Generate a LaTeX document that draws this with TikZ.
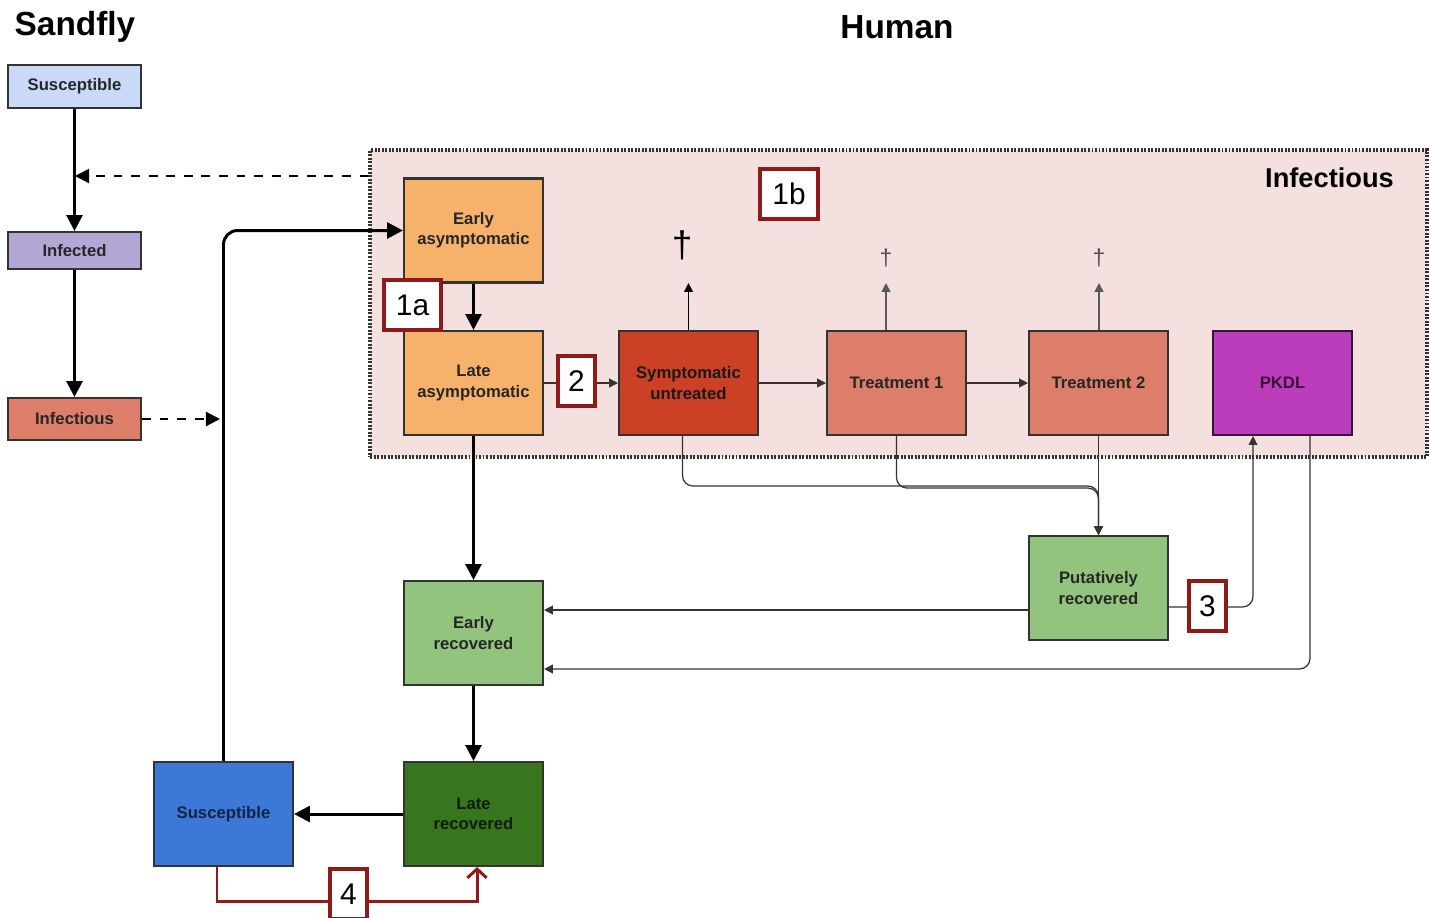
\documentclass[tikz,border=0pt]{standalone}
\usepackage{fontspec}
\setmainfont{Liberation Sans}
\usetikzlibrary{arrows.meta}

\definecolor{flysus}{HTML}{C9DAF8}
\definecolor{flyinf}{HTML}{B4A7D6}
\definecolor{salmon}{HTML}{DD7E6B}
\definecolor{asym}{HTML}{F6B26B}
\definecolor{symp}{HTML}{CC4125}
\definecolor{pkdl}{HTML}{BC3DBC}
\definecolor{recov}{HTML}{93C47D}
\definecolor{laterec}{HTML}{38761D}
\definecolor{humsus}{HTML}{3C78D8}
\definecolor{zonepink}{HTML}{F5E0E0}
\definecolor{tagred}{HTML}{8E1A1A}

\begin{document}
\begin{tikzpicture}[x=0.02cm, y=-0.02cm,
    box/.style = {draw=black!80, line width=1.2pt, minimum width=2.78cm, minimum height=2.08cm,
                  inner sep=0pt, align=center, text=black!85,
                  font=\fontsize{9.5}{11.5}\selectfont\bfseries},
    flybox/.style = {box, minimum width=2.66cm},
    tag/.style = {draw=tagred, line width=2.3pt, fill=white, inner sep=0pt,
                  minimum width=0.74cm, minimum height=1.0cm, font=\fontsize{17}{17}\selectfont},
    flow/.style = {line width=1.7pt, -{Triangle[length=9pt,width=9pt]}},
    thinflow/.style = {draw=black!80, line width=0.7pt, -{Triangle[length=5pt,width=5pt]}},
    death/.style = {draw=black!65, line width=0.8pt, -{Triangle[length=5pt,width=5pt]}},
    link/.style = {line width=1.2pt, dash pattern=on 5pt off 5pt, -{Triangle[length=8pt,width=8pt]}},
    title/.style = {font=\fontsize{19}{19}\selectfont\bfseries}]

    \useasboundingbox (0,0) rectangle (1429,917);

    % titles
    \node[title] (flytitle) at (75,27) {Sandfly};
    \node[title] (humantitle) at (897,27) {Human};

    % infectious zone
    \node[draw=black!80, fill=zonepink, line width=2pt, dash pattern=on 1.1pt off 0.9pt,
          minimum width=21.14cm, minimum height=6.14cm, inner sep=0pt] (infzone) at (898.5,303.5) {};
    \node[anchor=east, font=\fontsize{15.5}{15.5}\selectfont\bfseries] (zonelabel) at (1400,178) {Infectious};

    % sandfly
    \node[flybox, fill=flysus, minimum height=0.86cm] (flysus) at (74.5,86.5) {Susceptible};
    \node[flybox, fill=flyinf, minimum height=0.74cm] (flyinf) at (74.5,250.5) {Infected};
    \node[flybox, fill=salmon, minimum height=0.84cm] (flyinfc) at (74.5,419) {Infectious};

    % human
    \node[box, fill=asym] (easym) at (473.5,230.5) {Early\\asymptomatic};
    \node[box, fill=asym] (lasym) at (473.5,383) {Late\\asymptomatic};
    \node[box, fill=symp, text=black!90] (symp) at (688.5,383) {Symptomatic\\untreated};
    \node[box, fill=salmon] (treat1) at (896.5,383) {Treatment 1};
    \node[box, fill=salmon] (treat2) at (1098.5,383) {Treatment 2};
    \node[box, fill=pkdl, draw=black!70!pkdl, text=black!70!pkdl] (pkdl) at (1282.5,383) {PKDL};
    \node[box, fill=recov] (erec) at (473.5,633) {Early\\recovered};
    \node[box, fill=recov] (putrec) at (1098.5,588) {Putatively\\recovered};
    \node[box, fill=laterec, text=black!75!laterec] (lrec) at (473.5,814) {Late\\recovered};
    \node[box, fill=humsus, text=black!70!humsus] (hsus) at (223.5,814) {Susceptible};

    % deaths
    \node[inner sep=0pt, font=\fontsize{21}{21}\selectfont] (dag0) at (682,245) {\textdagger};
    \node[inner sep=0pt, font=\fontsize{13}{13}\selectfont, text=black!70] (dag1) at (886,258) {\textdagger};
    \node[inner sep=0pt, font=\fontsize{13}{13}\selectfont, text=black!70] (dag2) at (1099,258) {\textdagger};
    \coordinate (die0) at (688.5,283);
    \coordinate (die1) at (886,283);
    \coordinate (die2) at (1099,283);

    % sandfly cycle
    \coordinate (flyin) at (75,176);
    \coordinate (hostin) at (220,419);
    \draw[flow] (flysus) -- (flyinf);
    \draw[flow] (flyinf) -- (flyinfc);
    \draw[link] (infzone.west |- flyin) -- (flyin);
    \draw[link] (flyinfc) -- (hostin);

    % human cycle
    \draw[flow, rounded corners=8pt] (hsus.north) |- (easym.west);
    \draw[flow] (easym) -- (lasym);
    \draw[flow] (lasym) -- (erec);
    \draw[flow] (erec) -- (lrec);
    \draw[flow] (lrec) -- (hsus);
    \draw[thinflow] (lasym) -- (symp);
    \draw[thinflow] (symp) -- (treat1);
    \draw[thinflow] (treat1) -- (treat2);
    \draw[thinflow, draw=black] (symp.north) -- (die0);
    \draw[death] (treat1.north -| die1) -- (die1);
    \draw[death] (treat2.north -| die2) -- (die2);
    \draw[thinflow, rounded corners=6pt] ([xshift=-0.12cm]symp.south) -- ++(0,50) -| (putrec.north);
    \draw[thinflow, rounded corners=6pt] (treat1.south) -- ++(0,52) -| (putrec.north);
    \draw[thinflow] (treat2) -- (putrec);
    \draw[thinflow] ([yshift=-0.44cm]putrec.west) coordinate (prw) -- (prw -| erec.east);
    \draw[thinflow, rounded corners=6pt] ([yshift=-0.38cm]putrec.east) -| ([xshift=-0.59cm]pkdl.south);
    \draw[thinflow, rounded corners=6pt] ([xshift=0.55cm]pkdl.south) |- ([yshift=-0.72cm]erec.east);
    \draw[tagred, line width=1.7pt, -{Straight Barb[length=5pt,width=11pt]}]
        ([xshift=-0.13cm]hsus.south) -- ++(0,34) -| ([xshift=0.07cm]lrec.south);

    % tags
    \node[tag, minimum width=1.14cm] (tag1a) at (412.5,305) {1a};
    \node[tag, minimum width=1.16cm] (tag1b) at (789,194) {1b};
    \node[tag] (tag2) at (576.5,381) {2};
    \node[tag] (tag3) at (1207.5,606) {3};
    \node[tag] (tag4) at (348.5,894) {4};
\end{tikzpicture}
\end{document}
